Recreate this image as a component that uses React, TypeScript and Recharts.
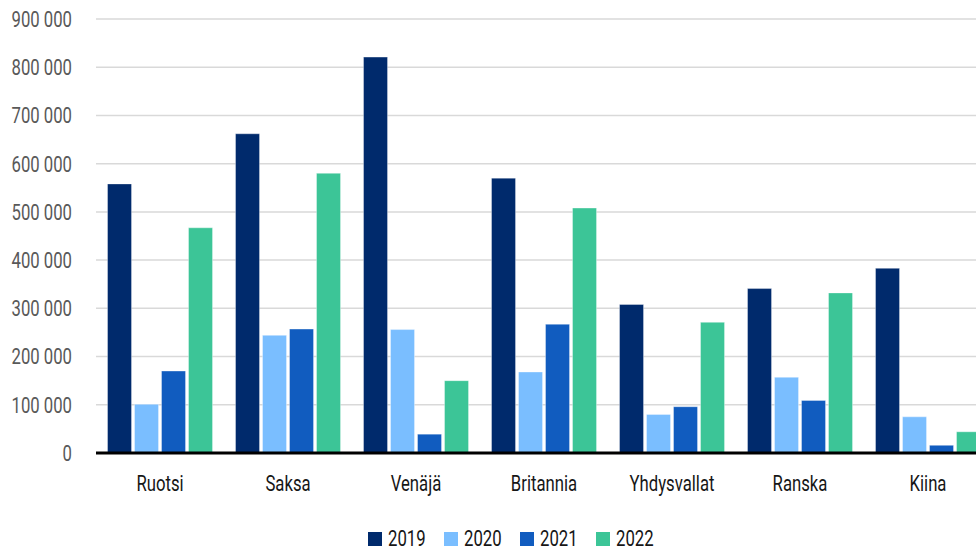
import React from 'react';
import { BarChart, Bar, XAxis, YAxis, CartesianGrid, Legend } from 'recharts';

const countries = ['Ruotsi', 'Saksa', 'Venäjä', 'Britannia', 'Yhdysvallat', 'Ranska', 'Kiina'];
const v2019 = [558000, 662000, 821000, 570000, 308000, 341000, 383000];
const v2020 = [101000, 244000, 256000, 168000, 80000, 157000, 75000];
const v2021 = [170000, 257000, 39000, 267000, 96000, 109000, 16000];
const v2022 = [467000, 580000, 150000, 508000, 271000, 332000, 44000];
const yTicks = [0, 100000, 200000, 300000, 400000, 500000, 600000, 700000, 800000, 900000];
const seriesKeys = ['2019', '2020', '2021', '2022'];
const colors = ['#002A6C', '#7ABEFF', '#115CBF', '#3CC597'];

const data = countries.map((c, i) => ({
  name: c,
  '2019': v2019[i],
  '2020': v2020[i],
  '2021': v2021[i],
  '2022': v2022[i],
}));

const FONT = 'Roboto, "Noto Sans", sans-serif';
const FS = 22;
const SX = 0.76;

const fmt = (v: number) => {
  if (v === 0) return '0';
  const s = String(v);
  return s.slice(0, s.length - 3) + ' ' + s.slice(-3);
};

const YTick = (props: any) => {
  const { x, y, payload } = props;
  return (
    <text
      transform={`translate(${x},${y}) scale(${SX},1)`}
      x={0}
      y={0}
      dy="0.36em"
      textAnchor="end"
      fill="#595959"
      fontSize={FS}
      fontFamily={FONT}
    >
      {fmt(payload.value)}
    </text>
  );
};

const XTick = (props: any) => {
  const { x, y, payload } = props;
  return (
    <text
      transform={`translate(${x},${y}) scale(${SX},1)`}
      x={0}
      y={38}
      textAnchor="middle"
      fill="#161616"
      fontSize={FS}
      fontFamily={FONT}
    >
      {payload.value}
    </text>
  );
};

const LegendContent = () => (
  <div style={{ position: 'relative', width: 300, height: 24 }}>
    {seriesKeys.map((k, i) => (
      <div key={k} style={{ position: 'absolute', left: i * 76, top: 0, height: 24, display: 'flex', alignItems: 'center' }}>
        <div style={{ width: 14, height: 14, background: colors[i] }} />
        <span
          style={{
            display: 'inline-block',
            marginLeft: 6,
            fontFamily: FONT,
            fontSize: FS,
            lineHeight: '24px',
            color: '#161616',
            transform: `scaleX(${SX})`,
            transformOrigin: 'left center',
          }}
        >
          {k}
        </span>
      </div>
    ))}
  </div>
);

export default function App() {
  return (
    <div style={{ width: 992, height: 551, position: 'relative', background: '#fff' }}>
      <style>{'html,body{margin:0;padding:0;overflow:hidden;background:#fff;}'}</style>
      <BarChart
        width={992}
        height={551}
        data={data}
        margin={{ top: 19, right: 0, bottom: 0, left: 0 }}
        barCategoryGap="9%"
        barGap={3}
      >
        <CartesianGrid vertical={false} stroke="#d9d9d9" strokeWidth={1.5} />
        <XAxis
          dataKey="name"
          height={74}
          axisLine={{ stroke: '#000', strokeWidth: 3 }}
          tickLine={false}
          tickSize={0}
          tickMargin={0}
          tick={<XTick />}
          interval={0}
        />
        <YAxis
          width={96}
          domain={[0, 900000]}
          ticks={yTicks}
          axisLine={false}
          tickLine={false}
          tickSize={0}
          tickMargin={24}
          tick={<YTick />}
          interval={0}
        />
        <Legend
          content={<LegendContent />}
          verticalAlign="bottom"
          wrapperStyle={{ left: 368, bottom: 0, width: 300, height: 24 }}
        />
        {seriesKeys.map((k, i) => (
          <Bar key={k} dataKey={k} fill={colors[i]} stroke="#ffffff" strokeOpacity={0.35} strokeWidth={1} isAnimationActive={false} />
        ))}
      </BarChart>
    </div>
  );
}
